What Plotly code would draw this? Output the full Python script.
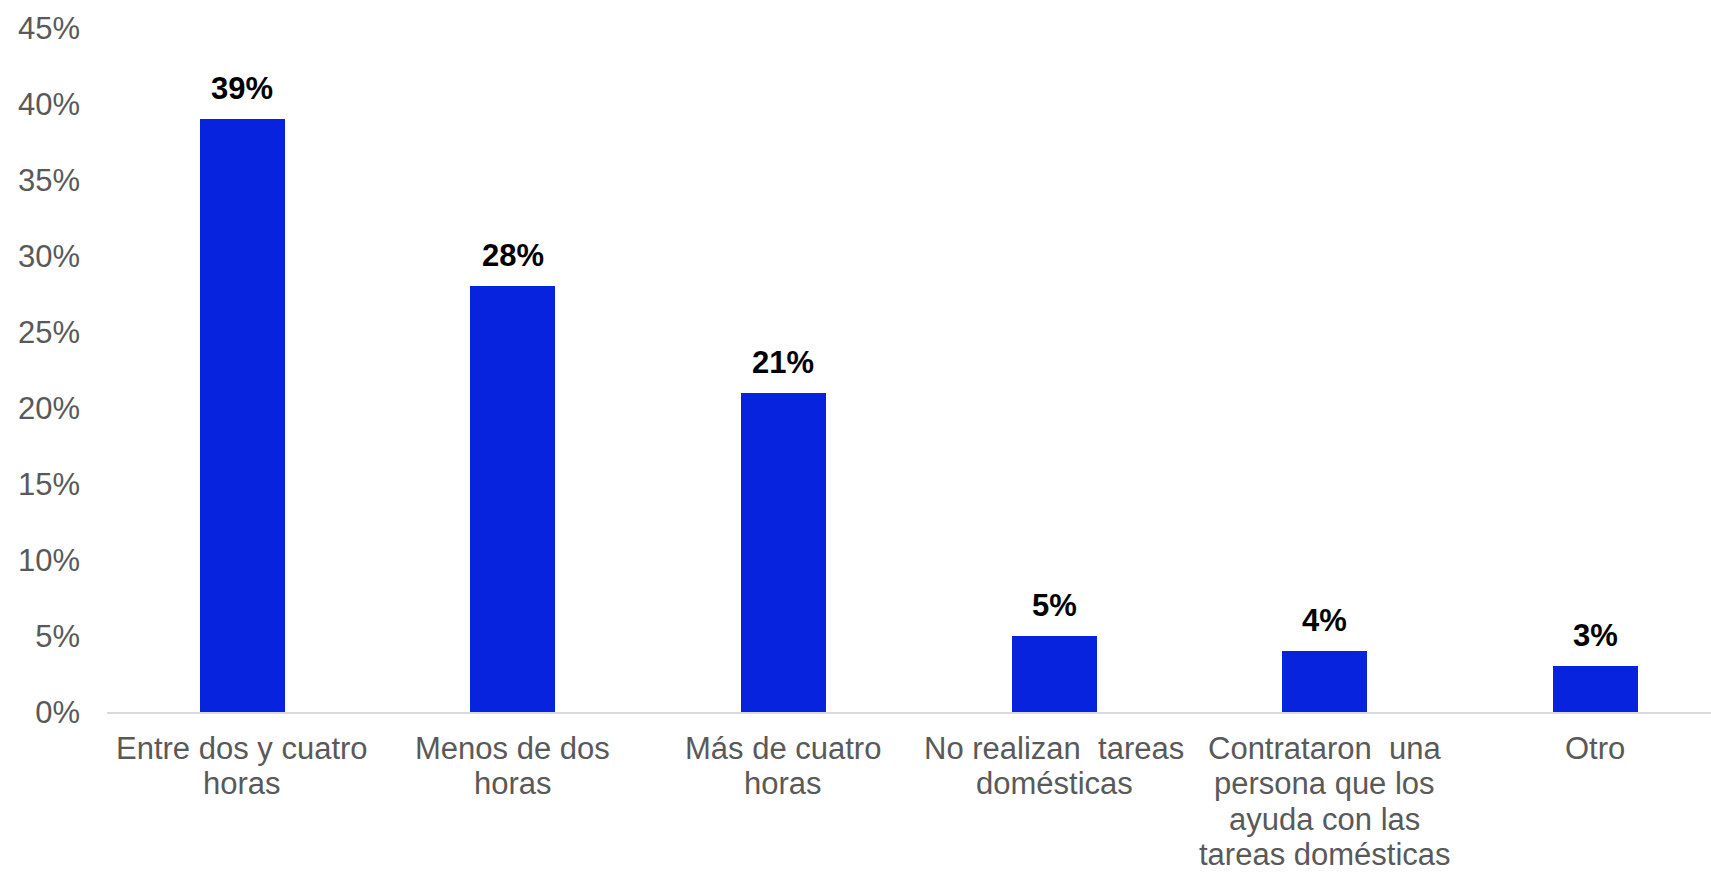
import plotly.graph_objects as go

# Survey categories, one entry per printed line of each label
category_lines = [
    ["Entre dos y cuatro", "horas"],
    ["Menos de dos", "horas"],
    ["Más de cuatro", "horas"],
    ["No realizan\u00a0 tareas", "domésticas"],
    ["Contrataron\u00a0 una", "persona que los", "ayuda con las", "tareas domésticas"],
    ["Otro"],
]
categories = [" ".join(lines) for lines in category_lines]
shares = [0.39, 0.28, 0.21, 0.05, 0.04, 0.03]
y_ticks = [0, 0.05, 0.10, 0.15, 0.20, 0.25, 0.30, 0.35, 0.40, 0.45]

FONT = "Arial, 'Liberation Sans', sans-serif"
BAR_COLOR = "#0823DD"
GREY = "#595959"

fig = go.Figure(
    go.Bar(
        x=categories,
        y=shares,
        marker=dict(color=BAR_COLOR, line=dict(width=0)),
        width=0.314,
        hoverinfo="skip",
    )
)

annotations = []
# value labels above each bar
for cat, val in zip(categories, shares):
    annotations.append(
        dict(
            x=cat, y=val, xref="x", yref="y",
            text=f"<b>{round(val * 100)}%</b>",
            showarrow=False, yanchor="bottom", yshift=11,
            font=dict(family=FONT, size=31, color="black"),
        )
    )
# category labels under the axis, one annotation per line for tight leading
for cat, lines in zip(categories, category_lines):
    for k, line in enumerate(lines):
        annotations.append(
            dict(
                x=cat, y=0, xref="x", yref="paper",
                text=line, showarrow=False, yanchor="top",
                yshift=-(17 + k * 35.3),
                font=dict(family=FONT, size=31, color=GREY),
            )
        )

fig.update_layout(
    width=1711,
    height=873,
    margin=dict(l=107, r=0, t=28, b=161),
    paper_bgcolor="white",
    plot_bgcolor="white",
    showlegend=False,
    bargap=0,
    annotations=annotations,
    xaxis=dict(
        type="category",
        range=[-0.5, 5.428],
        showticklabels=False,
        showgrid=False,
        zeroline=False,
        showline=True,
        linecolor="#D9D9D9",
        linewidth=1.5,
        ticks="",
        fixedrange=True,
    ),
    yaxis=dict(
        range=[0, 0.45],
        tickvals=y_ticks,
        tickformat=".0%",
        showgrid=False,
        zeroline=False,
        showline=False,
        ticks="",
        ticklabelstandoff=26,
        tickfont=dict(family=FONT, size=31, color=GREY),
        fixedrange=True,
    ),
)

fig.write_html("out.html")
